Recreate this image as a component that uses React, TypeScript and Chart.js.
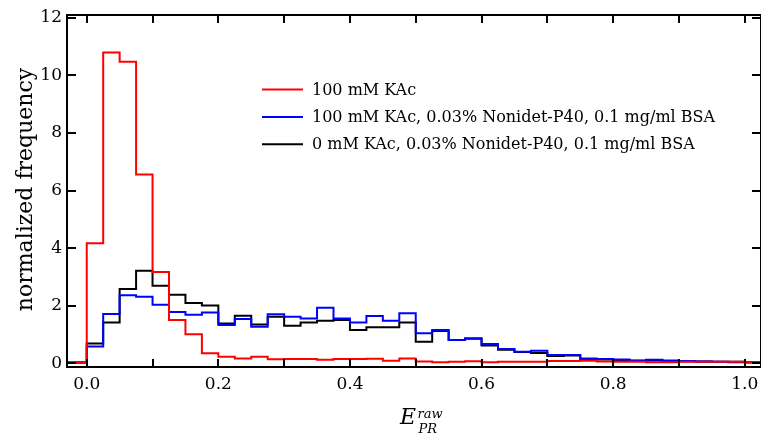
import React, { useEffect, useRef } from "react";
import { Chart, registerables } from "chart.js";

Chart.register(...registerables);

// Left edges of the histogram bins (bin width 0.025)
const binEdges = [
  -0.05, -0.025, 0, 0.025, 0.05, 0.075, 0.1, 0.125, 0.15, 0.175, 0.2, 0.225,
  0.25, 0.275, 0.3, 0.325, 0.35, 0.375, 0.4, 0.425, 0.45, 0.475, 0.5, 0.525,
  0.55, 0.575, 0.6, 0.625, 0.65, 0.675, 0.7, 0.725, 0.75, 0.775, 0.8, 0.825,
  0.85, 0.875, 0.9, 0.925, 0.95, 0.975, 1.0,
];
const lastEdge = 1.025;

const seriesLabels = [
  "100 mM KAc",
  "100 mM KAc, 0.03% Nonidet-P40, 0.1 mg/ml BSA",
  "0 mM KAc, 0.03% Nonidet-P40, 0.1 mg/ml BSA",
];
const seriesColors = ["#ff0000", "#0000ff", "#000000"];

const redValues = [
  0.03, 0.03, 4.17, 10.79, 10.47, 6.56, 3.17, 1.5, 1.01, 0.35, 0.23, 0.17,
  0.23, 0.14, 0.15, 0.15, 0.12, 0.15, 0.15, 0.16, 0.09, 0.17, 0.06, 0.04,
  0.05, 0.07, 0.04, 0.05, 0.05, 0.05, 0.08, 0.08, 0.09, 0.06, 0.05, 0.05,
  0.04, 0.04, 0.05, 0.05, 0.05, 0.05, 0.04,
];
const blueValues = [
  0.03, 0.03, 0.58, 1.71, 2.36, 2.31, 2.03, 1.78, 1.69, 1.76, 1.33, 1.54,
  1.27, 1.7, 1.62, 1.56, 1.93, 1.56, 1.42, 1.64, 1.48, 1.74, 1.04, 1.16,
  0.81, 0.87, 0.67, 0.5, 0.4, 0.44, 0.29, 0.29, 0.17, 0.15, 0.13, 0.1,
  0.12, 0.1, 0.08, 0.06, 0.05, 0.04, 0.03,
];
const blackValues = [
  0.03, 0.03, 0.69, 1.42, 2.58, 3.21, 2.69, 2.38, 2.09, 2.01, 1.38, 1.65,
  1.35, 1.62, 1.3, 1.42, 1.48, 1.5, 1.16, 1.25, 1.25, 1.42, 0.75, 1.12,
  0.81, 0.85, 0.62, 0.47, 0.39, 0.36, 0.25, 0.27, 0.14, 0.13, 0.11, 0.09,
  0.1, 0.08, 0.07, 0.06, 0.05, 0.05, 0.04,
];

const xMin = -0.03;
const xMax = 1.0247;
const yMin = -0.128;
const yMax = 12.094;

const FONT = "'DejaVu Serif', serif";

function toSteps(values: number[]) {
  const pts = binEdges.map((x, i) => ({ x, y: values[i] }));
  pts.push({ x: lastEdge, y: values[values.length - 1] });
  return pts;
}

const decorPlugin = {
  id: "decor",
  afterDraw(chart: any) {
    const ctx = chart.ctx as CanvasRenderingContext2D;
    const a = chart.chartArea;
    const xs = chart.scales.x;
    const ys = chart.scales.y;
    ctx.save();
    ctx.strokeStyle = "#000";
    ctx.lineWidth = 2;
    // inward ticks on all four sides
    ctx.beginPath();
    xs.ticks.forEach((t: any) => {
      const px = Math.round(xs.getPixelForValue(t.value));
      ctx.moveTo(px, a.bottom);
      ctx.lineTo(px, a.bottom - 8);
      ctx.moveTo(px, a.top);
      ctx.lineTo(px, a.top + 8);
    });
    ys.ticks.forEach((t: any) => {
      const py = Math.round(ys.getPixelForValue(t.value));
      ctx.moveTo(a.left, py);
      ctx.lineTo(a.left + 9, py);
      ctx.moveTo(a.right, py);
      ctx.lineTo(a.right - 9, py);
    });
    ctx.stroke();
    // frame
    ctx.strokeRect(a.left, a.top, a.right - a.left, a.bottom - a.top);

    // legend
    const ds = chart.data.datasets;
    ds.forEach((d: any, i: number) => {
      const y = 89.5 + i * 27.4;
      ctx.strokeStyle = d.borderColor;
      ctx.lineWidth = 2;
      ctx.beginPath();
      ctx.moveTo(262, y);
      ctx.lineTo(303, y);
      ctx.stroke();
      ctx.fillStyle = "#000";
      ctx.font = `16px ${FONT}`;
      ctx.textAlign = "left";
      ctx.textBaseline = "middle";
      ctx.fillText(d.label, 312, y + 1);
    });

    // y title
    ctx.save();
    ctx.translate(26, 189.5);
    ctx.rotate(-Math.PI / 2);
    ctx.fillStyle = "#000";
    ctx.font = `22px ${FONT}`;
    ctx.textAlign = "center";
    ctx.textBaseline = "middle";
    ctx.fillText("normalized frequency", 0, 0);
    ctx.restore();

    // x title E_PR^raw
    ctx.fillStyle = "#000";
    ctx.textAlign = "left";
    ctx.textBaseline = "alphabetic";
    ctx.font = `italic 22px ${FONT}`;
    ctx.fillText("E", 400, 423.5);
    ctx.font = `italic 13px ${FONT}`;
    ctx.fillText("raw", 417.5, 418);
    ctx.fillText("PR", 418.5, 433);
    ctx.restore();
  },
};

export default function App() {
  const canvasRef = useRef<HTMLCanvasElement | null>(null);

  useEffect(() => {
    const canvas = canvasRef.current;
    if (!canvas) return;
    const valuesList = [redValues, blueValues, blackValues];
    const chart = new Chart(canvas, {
      type: "line",
      data: {
        datasets: valuesList.map((vals, i) => ({
          label: seriesLabels[i],
          data: toSteps(vals),
          borderColor: seriesColors[i],
          backgroundColor: seriesColors[i],
          borderWidth: 2,
          pointRadius: 0,
          stepped: "before" as const,
          fill: false,
        })),
      },
      options: {
        responsive: false,
        animation: false,
        devicePixelRatio: 1,
        layout: { padding: { top: 15, right: 0, left: 0, bottom: 0 } },
        plugins: {
          legend: { display: false },
          tooltip: { enabled: false },
        },
        scales: {
          x: {
            type: "linear",
            min: xMin,
            max: xMax,
            grid: { display: false, tickLength: 0 },
            border: { display: false },
            afterFit: (s: any) => {
              s.height = 68;
              s.paddingLeft = 0;
              s.paddingRight = 0;
            },
            ticks: {
              stepSize: 0.1,
              includeBounds: false,
              autoSkip: false,
              maxRotation: 0,
              padding: 7,
              color: "#000",
              font: { family: FONT, size: 17 },
              callback: (v: any) => {
                const n = Math.round(Number(v) * 10);
                return n % 2 === 0 ? (n / 10).toFixed(1) : "";
              },
            },
          },
          y: {
            type: "linear",
            min: yMin,
            max: yMax,
            grid: { display: false, tickLength: 0 },
            border: { display: false },
            afterFit: (s: any) => {
              s.width = 67;
              s.paddingTop = 0;
              s.paddingBottom = 0;
            },
            ticks: {
              stepSize: 2,
              includeBounds: false,
              padding: 5,
              color: "#000",
              font: { family: FONT, size: 17 },
              callback: (v: any) => String(Math.round(Number(v))),
            },
          },
        },
      },
      plugins: [decorPlugin],
    });
    return () => chart.destroy();
  }, []);

  return (
    <div style={{ position: "fixed", left: 0, top: 0, width: 761, height: 435, background: "#fff" }}>
      <canvas ref={canvasRef} width={761} height={435} style={{ display: "block" }} />
    </div>
  );
}
